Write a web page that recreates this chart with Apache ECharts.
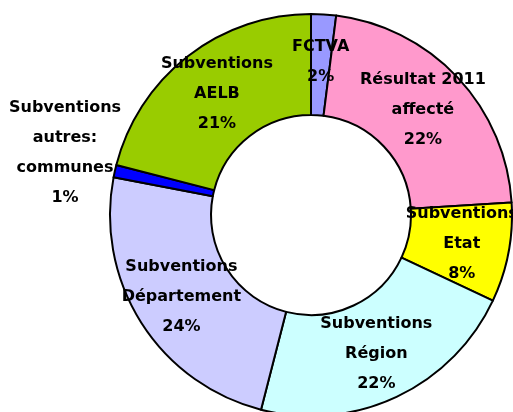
<!DOCTYPE html>
<html>
<head>
<meta charset="utf-8">
<script src="https://cdn.jsdelivr.net/npm/echarts@6/dist/echarts.min.js"></script>
<style>
  html, body { margin: 0; padding: 0; background: #fff; }
  #chart { width: 513px; height: 412px; }
</style>
</head>
<body>
<div id="chart"></div>
<script>
// sources de financement, en %
var names = ['FCTVA', 'Résultat 2011\naffecté', 'Subventions\nEtat', 'Subventions\nRégion',
    'Subventions\nDépartement', 'Subventions\nautres:\ncommunes', 'Subventions\nAELB'];
var values = [2, 22, 8, 22, 24, 1, 21];
var colors = ['#9999FF', '#FF99CC', '#FFFF00', '#CCFFFF', '#CCCCFF', '#0000FF', '#99CC00'];

var chart = echarts.init(document.getElementById('chart'));

var data = names.map(function (n, i) {
    return { name: n, value: values[i], itemStyle: { color: colors[i] } };
});

chart.setOption({
    animation: false,
    series: [{
        type: 'pie',
        center: [311, 215],
        radius: [100, 201],
        startAngle: 90,
        clockwise: true,
        data: data,
        itemStyle: {
            borderColor: '#000',
            borderWidth: 2
        },
        label: {
            show: true,
            position: 'inside',
            formatter: function (p) { return p.name + '\n' + p.value + '%'; },
            color: '#000',
            fontFamily: 'DejaVu Sans',
            fontWeight: 'bold',
            fontSize: 16,
            lineHeight: 30,
            align: 'center'
        },
        labelLine: { show: false },
        labelLayout: function (p) {
            // la part "communes" est trop petite : étiquette à l'extérieur, à gauche
            if (p.dataIndex === 5) {
                return { x: 65, y: 153 };
            }
            return {};
        }
    }]
});
</script>
</body>
</html>
